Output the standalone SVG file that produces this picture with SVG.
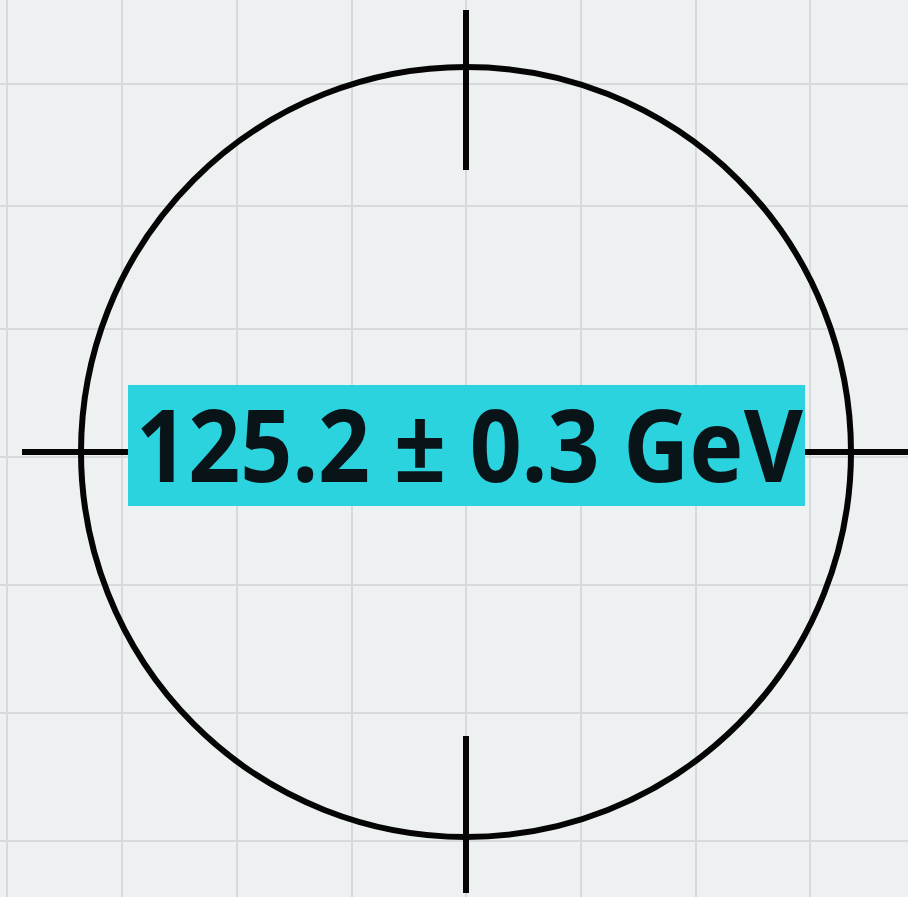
<svg xmlns="http://www.w3.org/2000/svg" width="908" height="897" viewBox="0 0 908 897">
  <style>
    .grid { stroke: #d6dadd; stroke-width: 2; fill: none; }
    .ink { stroke: #050505; stroke-width: 6; fill: none; }
    .label { font-family: "Noto Sans", "Open Sans", sans-serif; font-weight: 700; font-size: 100px; fill: #081418; }
  </style>
  <rect width="908" height="897" fill="#eef1f2"/>
  <g id="grid" class="grid">
    <line x1="7" y1="0" x2="7" y2="897"/>
    <line x1="122" y1="0" x2="122" y2="897"/>
    <line x1="237" y1="0" x2="237" y2="897"/>
    <line x1="352" y1="0" x2="352" y2="897"/>
    <line x1="466" y1="0" x2="466" y2="897"/>
    <line x1="581" y1="0" x2="581" y2="897"/>
    <line x1="696" y1="0" x2="696" y2="897"/>
    <line x1="810" y1="0" x2="810" y2="897"/>
    <line x1="0" y1="84" x2="908" y2="84"/>
    <line x1="0" y1="206" x2="908" y2="206"/>
    <line x1="0" y1="329" x2="908" y2="329"/>
    <line x1="0" y1="457" x2="908" y2="457"/>
    <line x1="0" y1="585" x2="908" y2="585"/>
    <line x1="0" y1="713" x2="908" y2="713"/>
    <line x1="0" y1="841" x2="908" y2="841"/>
  </g>
  <g id="reticle">
    <circle class="ink" cx="466" cy="452" r="385"/>
    <line class="ink" x1="466" y1="10" x2="466" y2="170"/>
    <line class="ink" x1="466" y1="736" x2="466" y2="893"/>
    <line class="ink" x1="22" y1="452" x2="128" y2="452"/>
    <line class="ink" x1="805" y1="452" x2="908" y2="452"/>
  </g>
  <g id="label">
    <rect x="128" y="385" width="677" height="121" fill="#2ad3de"/>
    <text class="label" x="136" y="482" textLength="667" lengthAdjust="spacingAndGlyphs">125.2 ± 0.3 GeV</text>
  </g>
</svg>
